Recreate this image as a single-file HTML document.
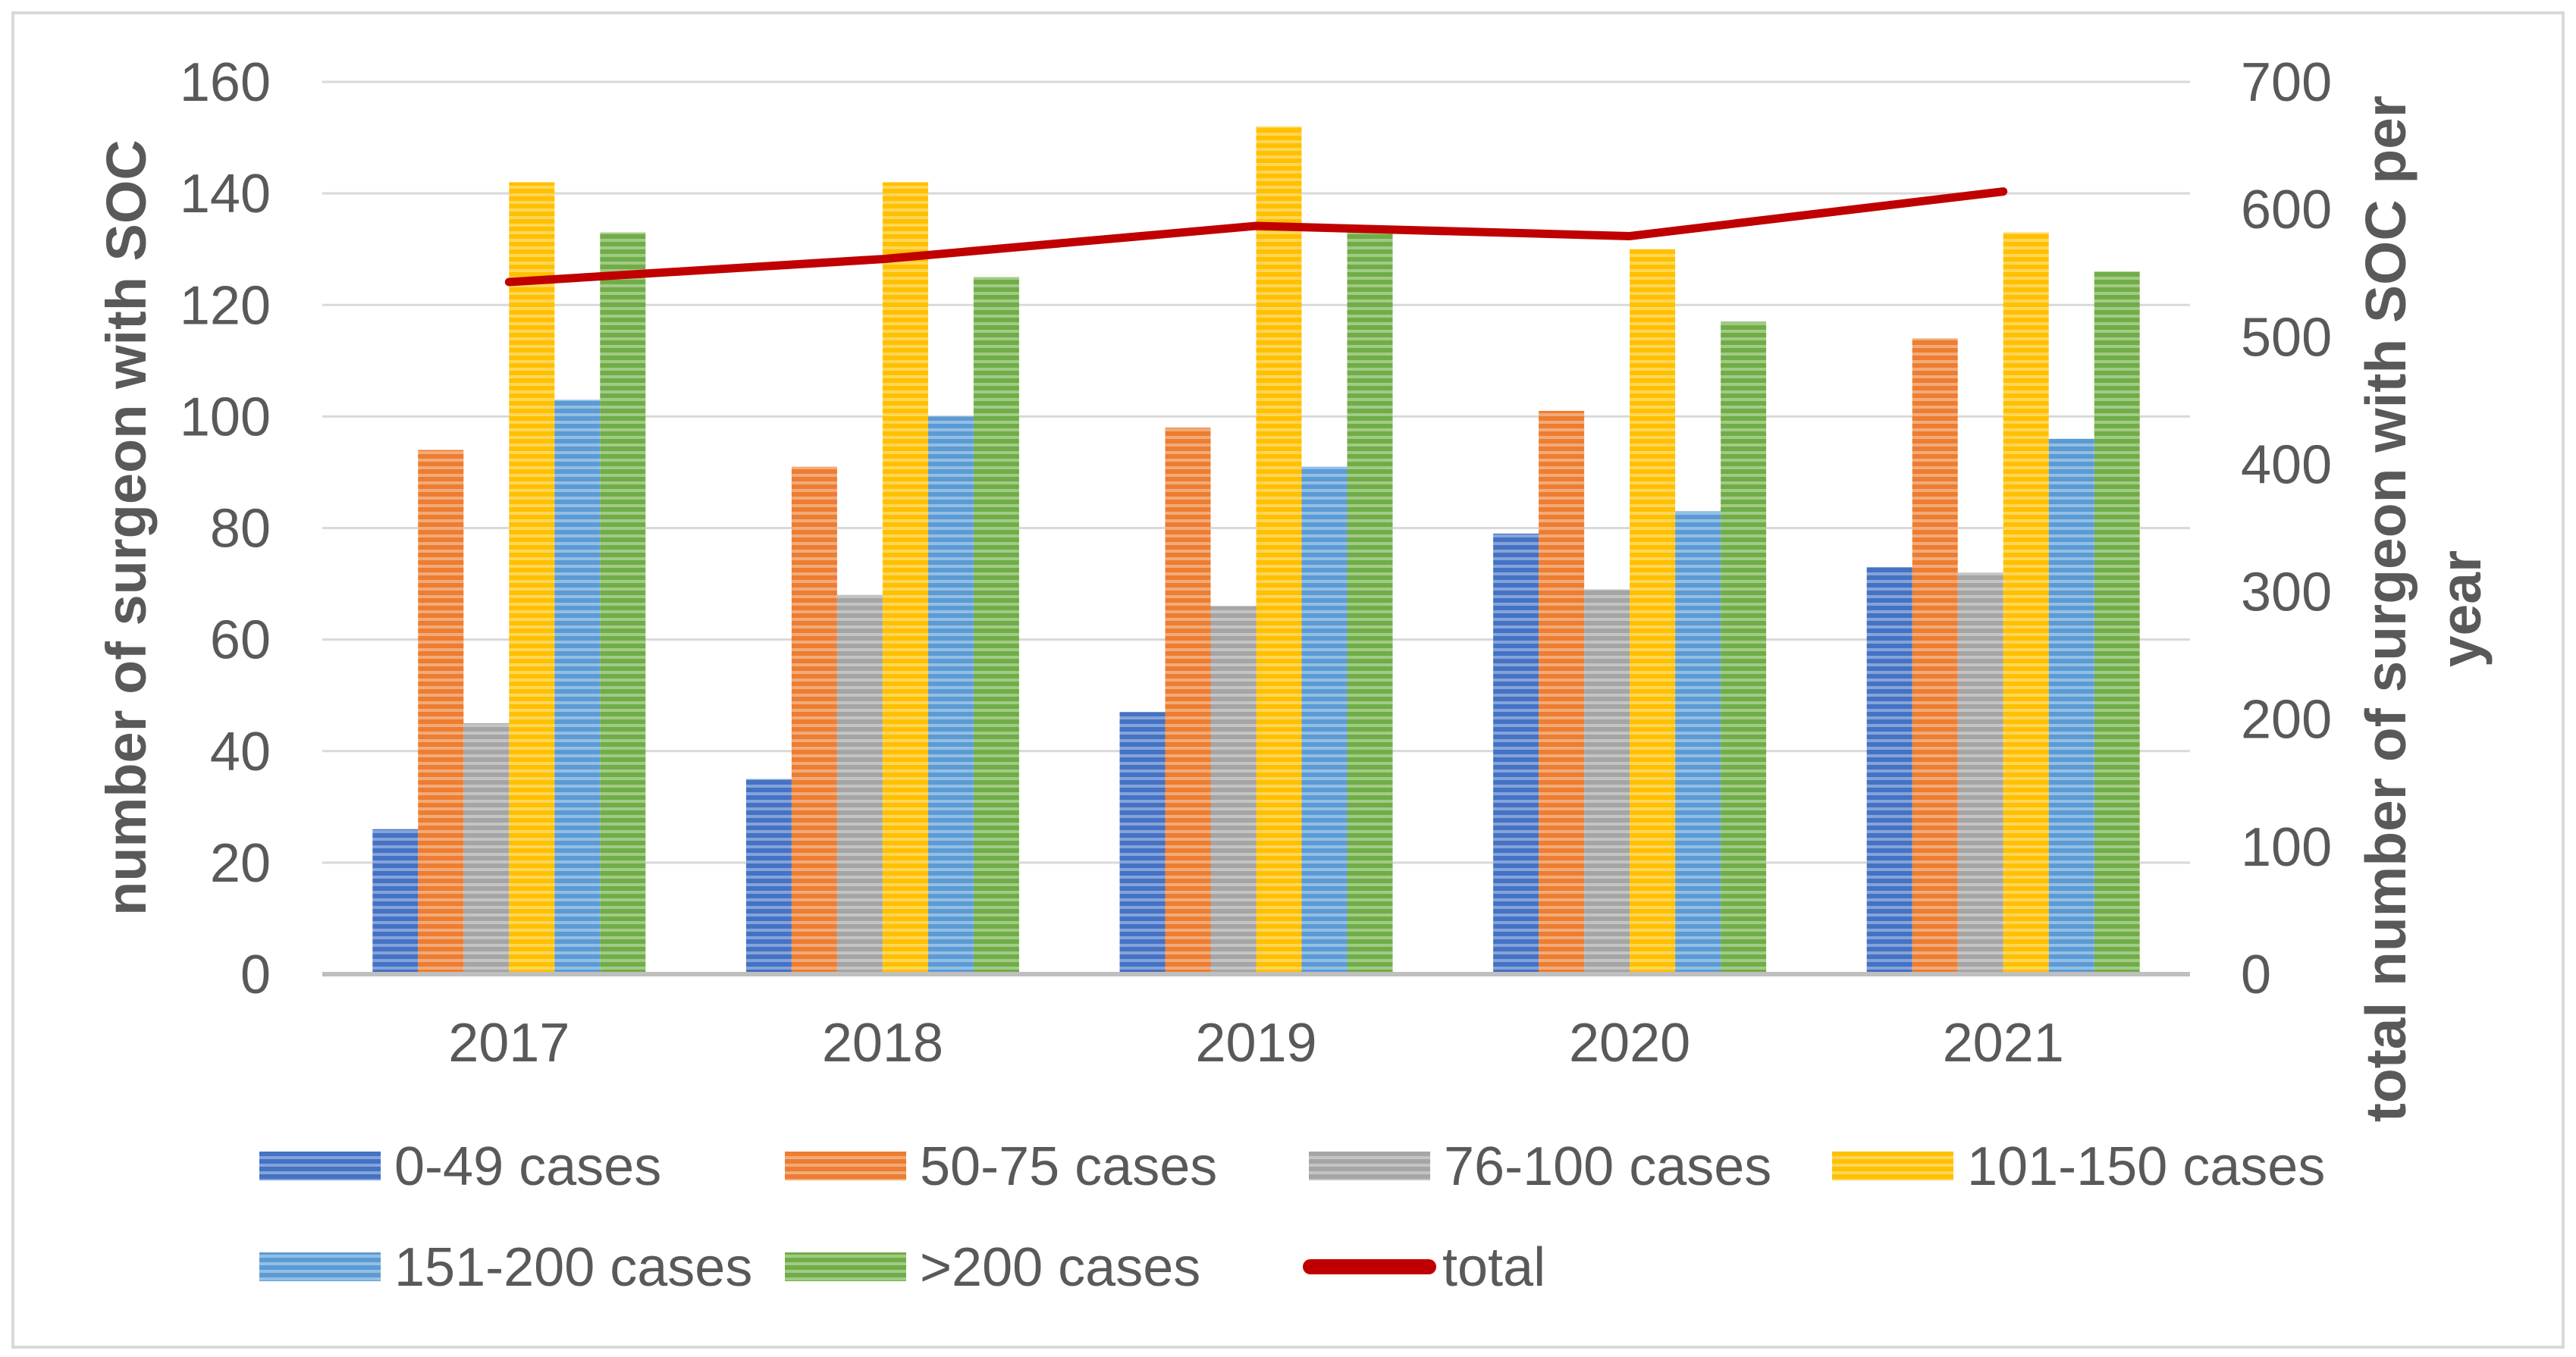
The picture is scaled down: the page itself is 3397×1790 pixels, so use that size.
<!DOCTYPE html>
<html><head><meta charset="utf-8"><style>
html,body{margin:0;padding:0;background:#fff;}
svg{display:block;font-family:"Liberation Sans",Arial,sans-serif;}
</style></head><body>
<svg id="chart" width="3397" height="1790" viewBox="0 0 3397 1790" xmlns="http://www.w3.org/2000/svg">
<defs id="defs"></defs>
<rect x="17" y="17" width="3363" height="1760" fill="#fff" stroke="#d9d9d9" stroke-width="4"/>
<g id="grid"></g><g id="bars"></g><g id="line"></g><g id="axes"></g><g id="legend"></g>
<text transform="translate(192,696) rotate(-90)" text-anchor="middle" font-size="74" font-weight="bold" fill="#595959">number of surgeon with SOC</text>
<text transform="translate(3172,803) rotate(-90)" text-anchor="middle" font-size="75" font-weight="bold" fill="#595959"><tspan x="0" dy="0">total number of surgeon with SOC per</tspan><tspan x="0" dy="99">year</tspan></text>
</svg>
<script>
const categories = ["2017","2018","2019","2020","2021"];
const seriesNames = ["0-49 cases","50-75 cases","76-100 cases","101-150 cases","151-200 cases",">200 cases"];
const s0 = [26,35,47,79,73];
const s1 = [94,91,98,101,114];
const s2 = [45,68,66,69,72];
const s3 = [142,142,152,130,133];
const s4 = [103,100,91,83,96];
const s5 = [133,125,133,117,126];
const totals = [543,561,587,579,614];
const leftTicks = [0,20,40,60,80,100,120,140,160];
const rightTicks = [0,100,200,300,400,500,600,700];
const colors = ["#4472c4","#ed7d31","#a5a5a5","#ffc000","#5b9bd5","#70ad47"];

const NS="http://www.w3.org/2000/svg";
const X0=425,X1=2888,Y0=1285,Y1=108;
const yL=v=>Y0-(v/160)*(Y0-Y1);
const yR=v=>Y0-(v/700)*(Y0-Y1);
const gw=(X1-X0)/categories.length;
const bw=60;
const xC=i=>X0+gw*(i+0.5);
function mk(tag,attrs,parent){const e=document.createElementNS(NS,tag);for(const k in attrs)e.setAttribute(k,attrs[k]);parent.appendChild(e);return e;}
const defs=document.getElementById('defs');
colors.forEach((c,i)=>{
  const p=mk('pattern',{id:'pat'+i,patternUnits:'userSpaceOnUse',width:10,height:10},defs);
  mk('rect',{x:0,y:0,width:10,height:10,fill:c},p);
  mk('rect',{x:0,y:5,width:10,height:4,fill:'#fff','fill-opacity':0.35},p);
});
const grid=document.getElementById('grid'),axes=document.getElementById('axes');
leftTicks.forEach(t=>{
  if(t>0){const l=mk('line',{x1:X0,x2:X1,y1:yL(t),y2:yL(t),stroke:'#d9d9d9','stroke-width':3},grid);
  
  }
  const tx=mk('text',{x:357,y:yL(t)+25,'text-anchor':'end','font-size':72,fill:'#595959'},axes);
  tx.textContent=t;
  
  
});
rightTicks.forEach(t=>{
  const tx=mk('text',{x:2955,y:yR(t)+25,'text-anchor':'start','font-size':72,fill:'#595959'},axes);
  tx.textContent=t;
  
  
});
const base=mk('line',{x1:X0,x2:X1,y1:Y0,y2:Y0,stroke:'#bfbfbf','stroke-width':6},axes);


categories.forEach((c,i)=>{
  const tx=mk('text',{x:xC(i),y:1400,'text-anchor':'middle','font-size':72,fill:'#595959'},axes);
  tx.textContent=c;
  
  
});
const series=[s0,s1,s2,s3,s4,s5];
const bars=document.getElementById('bars');
series.forEach((s,j)=>{
  s.forEach((v,i)=>{
    const x=xC(i)-3*bw+j*bw;
    const r=mk('rect',{x:x,y:yL(v),width:bw,height:Y0-yL(v),fill:'url(#pat'+j+')'},bars);
    
    
  });
});
const lg=document.getElementById('line');
const pl=mk('polyline',{points:totals.map((v,i)=>xC(i)+','+yR(v)).join(' '),fill:'none',stroke:'#c00000','stroke-width':11,'stroke-linecap':'round','stroke-linejoin':'round'},lg);


const legend=document.getElementById('legend');
const legPos=[[342,1519],[1035,1519],[1726,1519],[2416,1519],[342,1652],[1035,1652]];
seriesNames.forEach((n,j)=>{
  const [x,y]=legPos[j];
  const g=mk('g',{},legend);
  
  
  mk('rect',{x:x,y:y,width:160,height:38,fill:'url(#pat'+j+')'},g);
  const t=mk('text',{x:x+178,y:y+44,'font-size':72,fill:'#595959'},g);
  t.textContent=n;
});
const gt=mk('g',{},legend);


mk('line',{x1:1728,x2:1884,y1:1671,y2:1671,stroke:'#c00000','stroke-width':20,'stroke-linecap':'round'},gt);
const tt=mk('text',{x:1902,y:1696,'font-size':72,fill:'#595959'},gt);
tt.textContent='total';
</script>
</body></html>
